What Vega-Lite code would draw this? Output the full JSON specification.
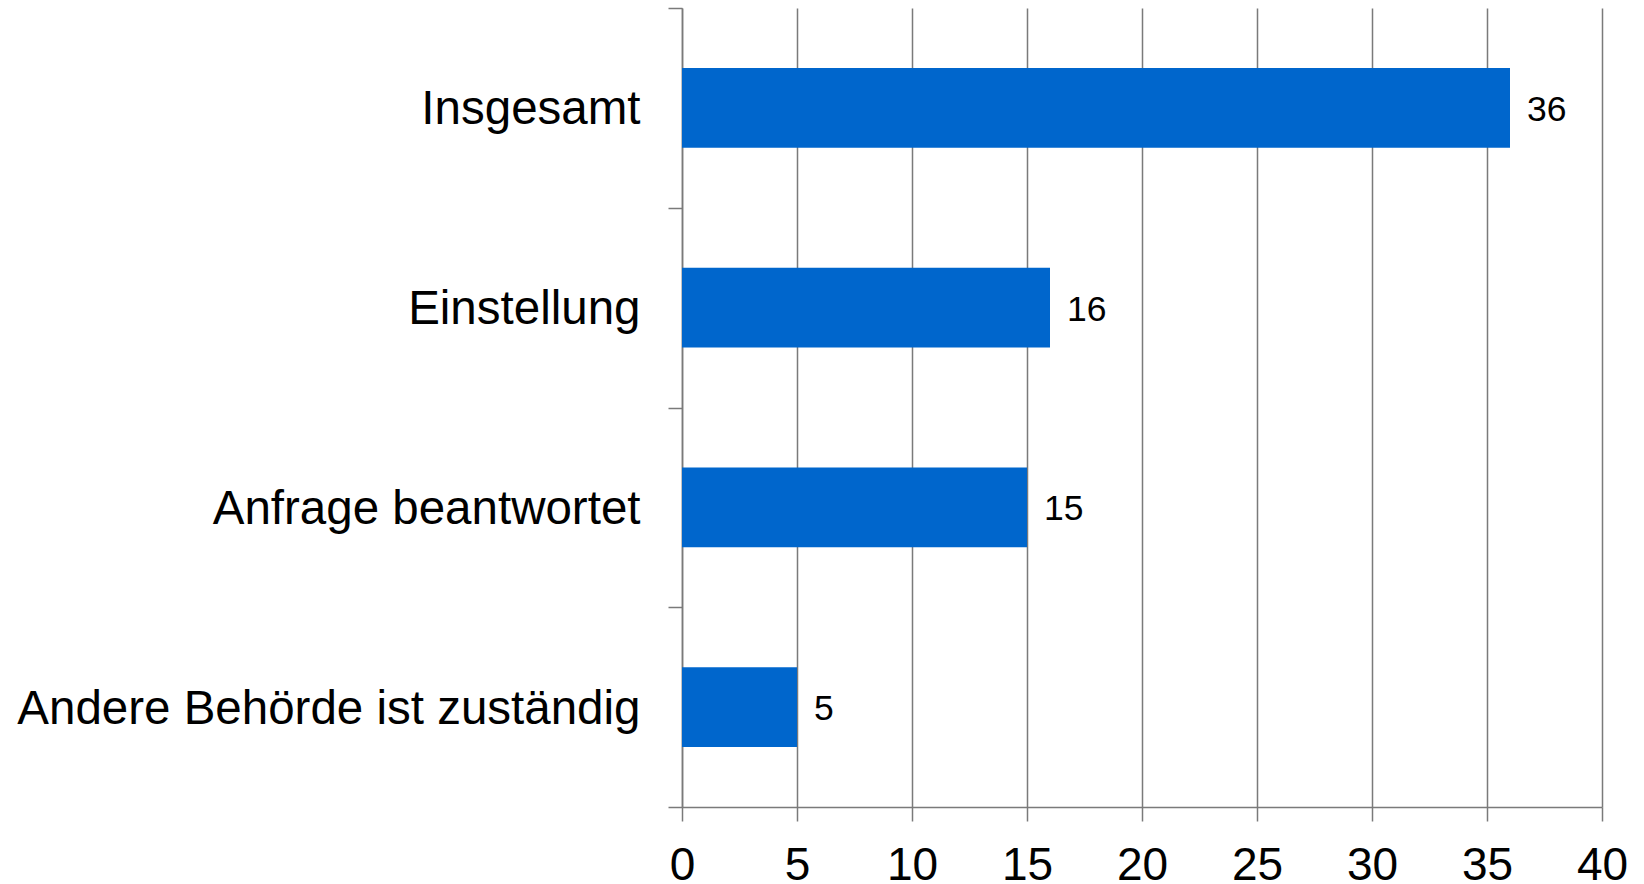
{
  "$schema": "https://vega.github.io/schema/vega-lite/v6.json",
  "width": 920,
  "height": 799,
  "autosize": {"type": "none"},
  "padding": {"left": 682, "top": 8, "right": 42, "bottom": 77},
  "background": "white",
  "config": {"view": {"stroke": null}, "font": "Liberation Sans"},
  "data": {"values": [
    {"kategorie": "Insgesamt", "wert": 36},
    {"kategorie": "Einstellung", "wert": 16},
    {"kategorie": "Anfrage beantwortet", "wert": 15},
    {"kategorie": "Andere Behörde ist zuständig", "wert": 5}
  ]},
  "encoding": {
    "y": {
      "field": "kategorie",
      "type": "nominal",
      "sort": null,
      "scale": {"paddingInner": 0, "paddingOuter": 0},
      "axis": {
        "title": null,
        "tickBand": "extent",
        "domainColor": "#7a7a7a",
        "domainWidth": 1.5,
        "tickColor": "#7a7a7a",
        "tickWidth": 1.5,
        "tickSize": 14,
        "labelFontSize": 47.5,
        "labelColor": "#000000",
        "labelPadding": 28,
        "labelOffset": 2,
        "labelLimit": 0,
        "grid": false
      }
    }
  },
  "layer": [
    {
      "mark": {"type": "bar", "color": "#0066CC", "height": {"band": 0.4}},
      "encoding": {
        "x": {
          "field": "wert",
          "type": "quantitative",
          "scale": {"domain": [0, 40], "nice": false},
          "axis": {
            "title": null,
            "values": [0, 5, 10, 15, 20, 25, 30, 35, 40],
            "grid": true,
            "gridColor": "#7a7a7a",
            "gridWidth": 1.5,
            "domainColor": "#7a7a7a",
            "domainWidth": 1.5,
            "tickColor": "#7a7a7a",
            "tickWidth": 1.5,
            "tickSize": 14,
            "labelFontSize": 46,
            "labelColor": "#000000",
            "labelPadding": 22,
            "labelFlush": false
          }
        }
      }
    },
    {
      "mark": {"type": "text", "align": "left", "baseline": "middle", "dx": 17, "dy": 2, "fontSize": 35.5, "color": "#000000"},
      "encoding": {
        "x": {"field": "wert", "type": "quantitative"},
        "text": {"field": "wert", "type": "quantitative"}
      }
    }
  ]
}
